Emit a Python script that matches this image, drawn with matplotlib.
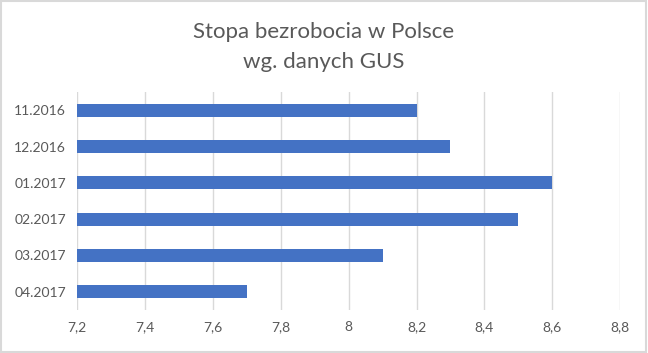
import matplotlib
matplotlib.use("Agg")
import matplotlib.pyplot as plt
from matplotlib.patches import Rectangle
from matplotlib.ticker import FuncFormatter

months = ["11.2016", "12.2016", "01.2017", "02.2017", "03.2017", "04.2017"]
rates = [8.2, 8.3, 8.6, 8.5, 8.1, 7.7]
x_ticks = [7.2, 7.4, 7.6, 7.8, 8.0, 8.2, 8.4, 8.6, 8.8]

plt.rcParams["font.family"] = ["Lato", "DejaVu Sans"]
text_color = "#595959"

fig = plt.figure(figsize=(6.48, 3.53), dpi=100)
ax = fig.add_axes([0.119, 0.122, 0.838, 0.617])

pos = list(range(len(months)))
ax.barh(pos, [r - 7.2 for r in rates], left=7.2, height=0.36, color="#4472C4")
ax.set_yticks(pos)
ax.set_yticklabels(months)
ax.set_ylim(len(months) - 0.5, -0.5)

ax.set_xlim(7.2, 8.8)
ax.set_xticks(x_ticks)
ax.xaxis.set_major_formatter(FuncFormatter(lambda v, _: f"{v:g}".replace(".", ",")))
ax.grid(axis="x", color="#D9D9D9", linewidth=1)
ax.set_axisbelow(True)
for s in ax.spines.values():
    s.set_visible(False)
ax.tick_params(length=0, labelsize=10, colors=text_color, pad=8)

fig.text(0.5, 0.91, "Stopa bezrobocia w Polsce", ha="center", va="center",
         fontsize=16, color=text_color)
fig.text(0.5, 0.825, "wg. danych GUS", ha="center", va="center",
         fontsize=16, color=text_color)

fig.patches.append(Rectangle((0.002, 0.003), 0.995, 0.993, transform=fig.transFigure,
                             fill=False, edgecolor="#D9D9D9", linewidth=1.5))

fig.savefig("out.png", dpi=100)
